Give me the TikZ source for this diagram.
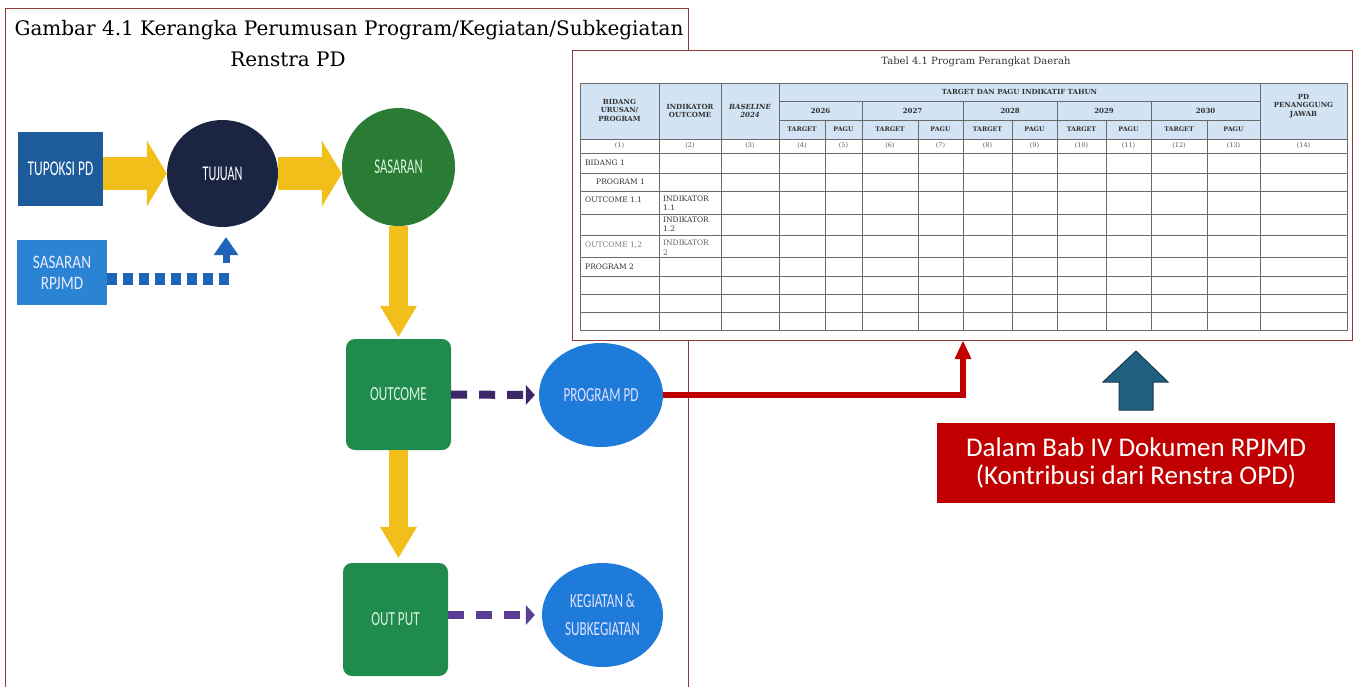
\documentclass[tikz,border=0pt]{standalone}
\usepackage{fontspec}
\usepackage{graphicx}
\setmainfont{DejaVu Serif}
\newfontfamily\calib{Carlito}
\usetikzlibrary{shapes.geometric,arrows.meta,calc}
\definecolor{framecol}{HTML}{8E3B3B}
\definecolor{tline}{HTML}{6A6A6A}
\definecolor{headblue}{HTML}{D2E3F3}
\definecolor{ycol}{HTML}{F2BE1A}
\definecolor{tupcol}{HTML}{1D5B9B}
\definecolor{tujcol}{HTML}{1B2441}
\definecolor{sascol}{HTML}{2A7B33}
\definecolor{grncol}{HTML}{1F8B4C}
\definecolor{rpjcol}{HTML}{2B83D3}
\definecolor{dotcol}{HTML}{1F64B8}
\definecolor{ellcol}{HTML}{1F7BDA}
\definecolor{pur1}{HTML}{3B2769}
\definecolor{pur2}{HTML}{5C3D94}
\definecolor{redc}{HTML}{C00000}
\definecolor{barrow}{HTML}{1F5F7F}
\definecolor{barrowline}{HTML}{163B50}
\definecolor{mint}{HTML}{D8F5E0}
\definecolor{ttext}{HTML}{333333}
\newcommand{\sx}[2]{\scalebox{#1}[1]{#2}}
\begin{document}
\begin{tikzpicture}[x=1pt,y=-1pt,
  diag/.style={inner sep=0pt, font=\calib\fontsize{21}{24}\selectfont, align=center},
  yarrow/.style={draw=ycol, line width=33pt, -{Triangle[length=20pt,width=66pt,line width=0pt,fill=ycol]}},
  yarrowv/.style={draw=ycol, line width=19pt, -{Triangle[length=31pt,width=37pt,line width=0pt,fill=ycol]}},
  pdash/.style={line width=8pt, dash pattern=on 16pt off 12pt},
  hdr/.style={font=\bfseries\fontsize{7}{8.5}\selectfont, text=ttext, inner sep=0pt, align=center},
  num/.style={font=\fontsize{6.5}{7}\selectfont, text=ttext!80, inner sep=0pt},
  body/.style={font=\fontsize{7.5}{9.5}\selectfont, text=ttext, inner sep=0pt, anchor=west, align=left},
  tl/.style={draw=tline, line width=0.6pt}
]
\useasboundingbox (0,0) rectangle (1359,686);
\fill[white] (0,0) rectangle (1359,686);

% title
\node[font=\fontsize{20}{24}\selectfont, inner sep=0pt] (title1) at (349,30) {Gambar 4.1 Kerangka Perumusan Program/Kegiatan/Subkegiatan};
\node[font=\fontsize{20}{24}\selectfont, inner sep=0pt] (title2) at (288,59) {Renstra PD};

% left frame
\draw[framecol, line width=1pt] (5,690) -- (5,8) -- (688,8) -- (688,690);

% left diagram nodes
\node[diag, fill=tupcol, text=white, minimum width=85pt, minimum height=74pt] (tupoksi) at (60.5,169) {\sx{0.64}{TUPOKSI PD}};
\node[diag, ellipse, fill=tujcol, text=white, minimum width=111pt, minimum height=107pt] (tujuan) at (222.5,173.5) {\sx{0.58}{TUJUAN}};
\node[diag, ellipse, fill=sascol, text=mint, minimum width=113pt, minimum height=118pt] (sasaran) at (398.5,167) {\sx{0.6}{SASARAN}};
\node[diag, fill=rpjcol, text=white!92!blue, minimum width=90pt, minimum height=65pt, font=\calib\fontsize{19}{21}\selectfont] (rpjmd) at (62,272.5) {\sx{0.8}{SASARAN}\\\sx{0.8}{RPJMD}};
\node[diag, fill=grncol, text=mint, rounded corners=9pt, minimum width=105pt, minimum height=111pt, font=\calib\fontsize{20}{23}\selectfont] (outcome) at (398.5,394.5) {\sx{0.66}{OUTCOME}};
\node[diag, fill=grncol, text=mint, rounded corners=9pt, minimum width=105pt, minimum height=113pt, font=\calib\fontsize{20}{23}\selectfont] (output) at (395.5,619.5) {\sx{0.66}{OUT PUT}};
\node[diag, ellipse, fill=ellcol, text=white!88!blue, minimum width=124pt, minimum height=104pt, font=\calib\fontsize{20}{23}\selectfont] (progpd) at (601,395) {\sx{0.66}{PROGRAM PD}};
\node[diag, ellipse, fill=ellcol, text=white!88!blue, minimum width=121pt, minimum height=104pt, font=\calib\fontsize{20}{28}\selectfont] (keg) at (602.5,615) {\sx{0.66}{KEGIATAN \&}\\\sx{0.66}{SUBKEGIATAN}};

% yellow arrows
\draw[yarrow] (tupoksi.east |- tujuan.west) -- (tujuan.west);
\draw[yarrow] (tujuan.east) -- (sasaran.west |- tujuan.east);
\draw[yarrowv] (sasaran.south) -- ($(outcome.north)+(0,-2)$);
\draw[yarrowv] (outcome.south) -- ($(outcome.south |- output.north)+(0,-5)$);

% purple dashed arrows
\draw[pdash, draw=pur1, -{Triangle[length=9pt,width=20pt,line width=0pt,fill=pur1]}] (outcome.east) -- ($(progpd.west)+(-4,0)$);
\draw[pdash, draw=pur2, -{Triangle[length=9pt,width=20pt,line width=0pt,fill=pur2]}] (output.east |- keg.west) -- ($(keg.west)+(-7,0)$);

% blue dotted connector
\coordinate (bend) at (226,279);
\coordinate (upstart) at (226,263);
\draw[dotcol, line width=12pt, dash pattern=on 10pt off 6pt] (rpjmd.east |- bend) -- ($(bend)+(5,0)$);
\draw[draw=dotcol, line width=7pt, -{Triangle[length=18pt,width=25pt,line width=0pt,fill=dotcol]}] (upstart) -- ($(upstart |- tujuan.south)+(0,10)$);

% table frame
\node[draw=framecol, line width=1pt, fill=white, minimum width=780pt, minimum height=290pt, inner sep=0pt, anchor=north west] (tframe) at (572,50) {};
\node[font=\fontsize{10}{12}\selectfont, text=ttext, inner sep=0pt] (caption) at (976,62) {Tabel 4.1 Program Perangkat Daerah};

% table
\fill[headblue] (580,83) rectangle (1347,139);
\draw[tl] (580,83) rectangle (1347,330);
\foreach \y in {139,153,173,191,214,235.5,257.5,276,294,312} \draw[tl] (580,\y) -- (1347,\y);
\draw[tl] (779,101) -- (1260,101);
\draw[tl] (779,120) -- (1260,120);
\foreach \x in {659,721,779,1260} \draw[tl] (\x,83) -- (\x,330);
\foreach \x in {862,963,1057,1151} \draw[tl] (\x,101) -- (\x,330);
\foreach \x in {825,918,1012,1106,1207} \draw[tl] (\x,120) -- (\x,330);

\node[hdr] (h1) at (619.5,110) {BIDANG\\URUSAN/\\PROGRAM};
\node[hdr] (h2) at (690,111) {INDIKATOR\\OUTCOME};
\node[hdr, font=\bfseries\itshape\fontsize{7}{8.5}\selectfont] (h3) at (750,111) {BASELINE\\2024};
\node[hdr] (h4) at (1019.5,92) {TARGET DAN PAGU INDIKATIF TAHUN};
\node[hdr] (h14) at (1303.5,106) {PD\\PENANGGUNG\\JAWAB};
\foreach \cx/\yr [count=\i] in {820.5/2026,912.5/2027,1010/2028,1104/2029,1205.5/2030}
  \node[hdr] (yr\i) at (\cx,111) {\yr};
\foreach \cx [count=\i] in {802,890,987.5,1081.5,1179}
  \node[hdr, font=\bfseries\fontsize{6.3}{7}\selectfont] (tg\i) at (\cx,129.5) {TARGET};
\foreach \cx [count=\i] in {843.5,940.5,1034.5,1128.5,1233.5}
  \node[hdr, font=\bfseries\fontsize{6.3}{7}\selectfont] (pg\i) at (\cx,129.5) {PAGU};
\foreach \cx [count=\i] in {619.5,690,750,802,843.5,890,940.5,987.5,1034.5,1081.5,1128.5,1179,1233.5,1303.5}
  \node[num] (nr\i) at (\cx,146) {(\i)};

\node[body] (b1) at (585,163) {BIDANG 1};
\node[body] (b2) at (596,182) {PROGRAM 1};
\node[body] (b3) at (585,200) {OUTCOME 1.1};
\node[body, anchor=north west] (b4) at (663,195.5) {INDIKATOR\\1.1};
\node[body, anchor=north west] (b5) at (663,216.5) {INDIKATOR\\1.2};
\node[body, text=ttext!65] (b6) at (585,245) {OUTCOME 1,2};
\node[body, anchor=north west, text=ttext!75] (b7) at (663,240) {INDIKATOR\\2};
\node[body] (b8) at (585,267) {PROGRAM 2};

% red connector
\coordinate (redtip) at (963,341);
\draw[draw=redc, line width=6.5pt, -{Triangle[length=18pt,width=17pt,line width=0pt,fill=redc]}] (progpd.east) -| (redtip);

% red box
\node[fill=redc, text=white, minimum width=398pt, minimum height=80pt, inner sep=0pt, align=center, font=\calib\fontsize{27}{28}\selectfont] (redbox) at (1136,463) {Dalam Bab IV Dokumen RPJMD\\(Kontribusi dari Renstra OPD)};

% blue block arrow
\draw[fill=barrow, draw=barrowline, line width=1pt] (1119,410) -- (1153,410) -- (1153,382) -- (1168,382) -- (1136,351) -- (1103,382) -- (1119,382) -- cycle;
\end{tikzpicture}
\end{document}
